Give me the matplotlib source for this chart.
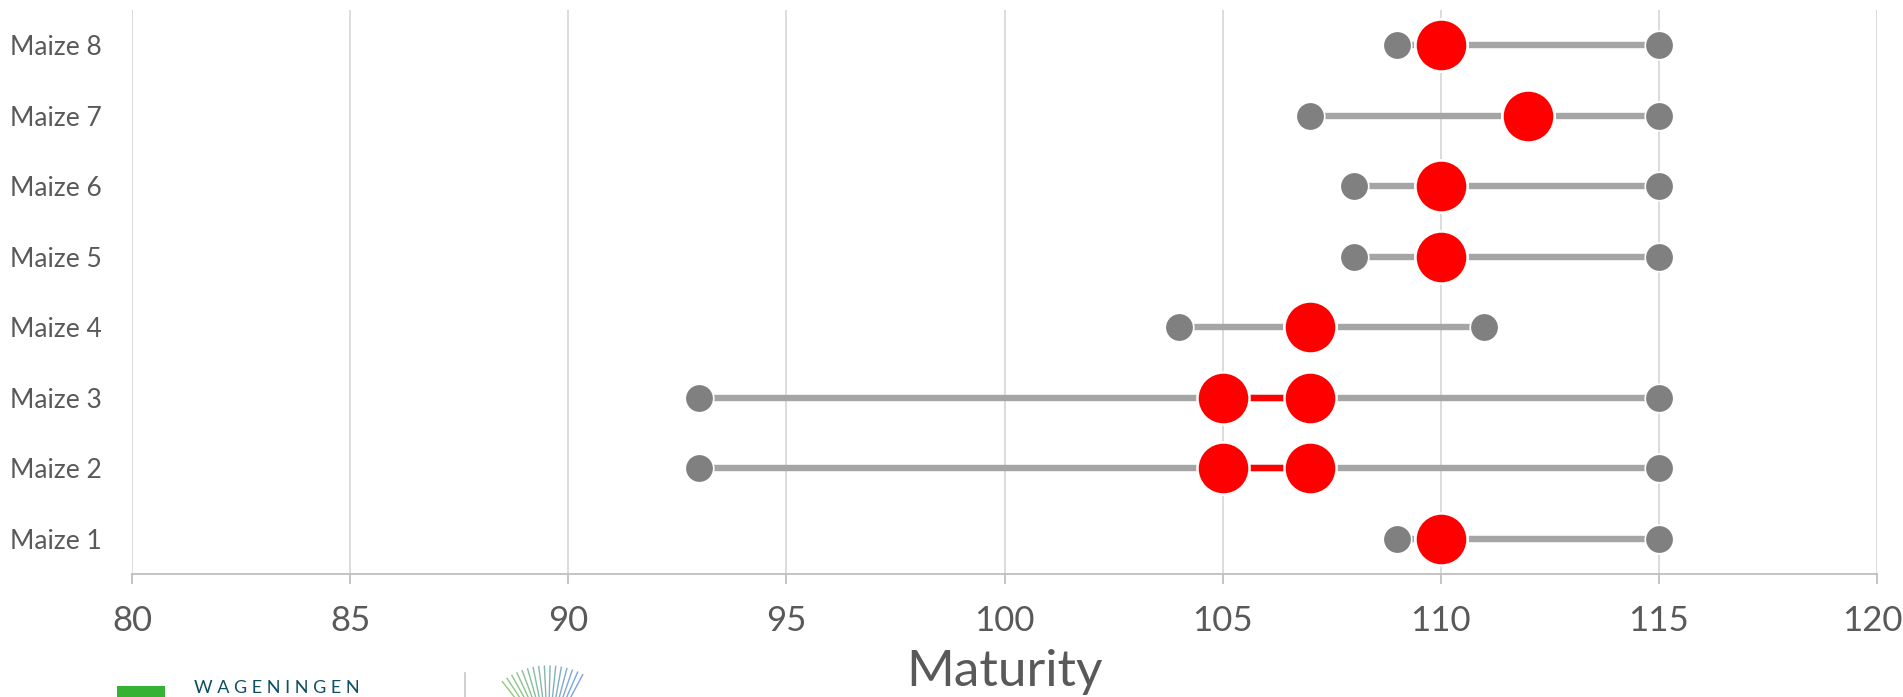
import matplotlib
matplotlib.use("Agg")
import matplotlib.pyplot as plt
import numpy as np
from matplotlib.lines import Line2D
from matplotlib.patches import Rectangle
from matplotlib.transforms import ScaledTranslation

plt.rcParams['font.family'] = ['Lato', 'DejaVu Sans']

categories = ["Maize 1", "Maize 2", "Maize 3", "Maize 4",
              "Maize 5", "Maize 6", "Maize 7", "Maize 8"]
range_min = [109, 93, 93, 104, 108, 108, 107, 109]
range_max = [115, 115, 115, 111, 115, 115, 115, 115]
opt_low = [110, 105, 105, 107, 110, 110, 112, 110]
opt_high = [110, 107, 107, 107, 110, 110, 112, 110]
xticks = [80, 85, 90, 95, 100, 105, 110, 115, 120]

TXT = "#595959"
W, H = 1903, 697
fig = plt.figure(figsize=(W/100, H/100), dpi=100)
ax = fig.add_axes([132/W, 1-574/H, (1877-132)/W, (574-10)/H])

y = np.arange(1, len(categories) + 1)

for i in range(len(categories)):
    ax.plot([range_min[i], range_max[i]], [y[i], y[i]], color="#a5a5a5",
            lw=4.6, solid_capstyle="butt", zorder=2)
    if opt_high[i] != opt_low[i]:
        ax.plot([opt_low[i], opt_high[i]], [y[i], y[i]], color="#ff0000",
                lw=4.6, solid_capstyle="butt", zorder=3)

ax.plot(range_min, y, 'o', ms=20.5, mfc="#808080", mec="white", mew=1.2,
        ls='none', zorder=4)
ax.plot(range_max, y, 'o', ms=20.5, mfc="#808080", mec="white", mew=1.2,
        ls='none', zorder=4)
ax.plot(opt_low, y, 'o', ms=37.5, mfc="#ff0000", mec="white", mew=1.8,
        ls='none', zorder=5)
ax.plot(opt_high, y, 'o', ms=37.5, mfc="#ff0000", mec="white", mew=1.8,
        ls='none', zorder=5)

ax.set_xlim(80, 120)
ax.set_ylim(0.5, 8.5)
ax.set_xticks(xticks)
ax.set_xticklabels([str(t) for t in xticks])
ax.set_yticks(y)
ax.set_yticklabels(categories)
ax.grid(axis='x', color="#d9d9d9", lw=1.3, zorder=0)
ax.set_axisbelow(True)
for s in ['top', 'right', 'left']:
    ax.spines[s].set_visible(False)
ax.spines['bottom'].set_color("#bfbfbf")
ax.spines['bottom'].set_linewidth(1.3)
ax.tick_params(axis='x', direction='out', length=7, width=1.3, color="#bfbfbf",
               labelsize=25, labelcolor=TXT, pad=15)
ax.tick_params(axis='y', length=0, labelsize=19, labelcolor=TXT, pad=22)
ax.set_xlabel("Maturity", fontsize=37, color=TXT, labelpad=9)

# keep the last tick label inside the canvas
last = ax.get_xticklabels()[-1]
last.set_transform(last.get_transform() + ScaledTranslation(-0.05, 0, fig.dpi_scale_trans))

# partial logo at the bottom edge
fig.add_artist(Rectangle((117/W, 0), 48/W, 11/H, transform=fig.transFigure,
                         color="#33b233", lw=0))
fig.text(194/W, 1/H, "W A G E N I N G E N", color="#0d4f63", fontsize=13,
         transform=fig.transFigure, va='bottom', ha='left')
fig.add_artist(Line2D([465/W, 465/W], [0, 24/H], color="#c8c8c8", lw=1.2,
                      transform=fig.transFigure))
cx, cy = 548, 740
n = 16
for k, ang in enumerate(np.linspace(62, 128, n)):
    a = np.deg2rad(ang)
    r0, r1 = 40, 74
    t = k / (n - 1)
    col = (0.35 + 0.1 * t, 0.55 + 0.2 * t, 0.85 - 0.5 * t)
    x0, y0 = cx + r0*np.cos(a), cy - r0*np.sin(a)
    x1, y1 = cx + r1*np.cos(a), cy - r1*np.sin(a)
    fig.add_artist(Line2D([x0/W, x1/W], [1 - y0/H, 1 - y1/H],
                          color=col, lw=1.0, alpha=0.8, transform=fig.transFigure))

fig.savefig("out.png", dpi=100)
